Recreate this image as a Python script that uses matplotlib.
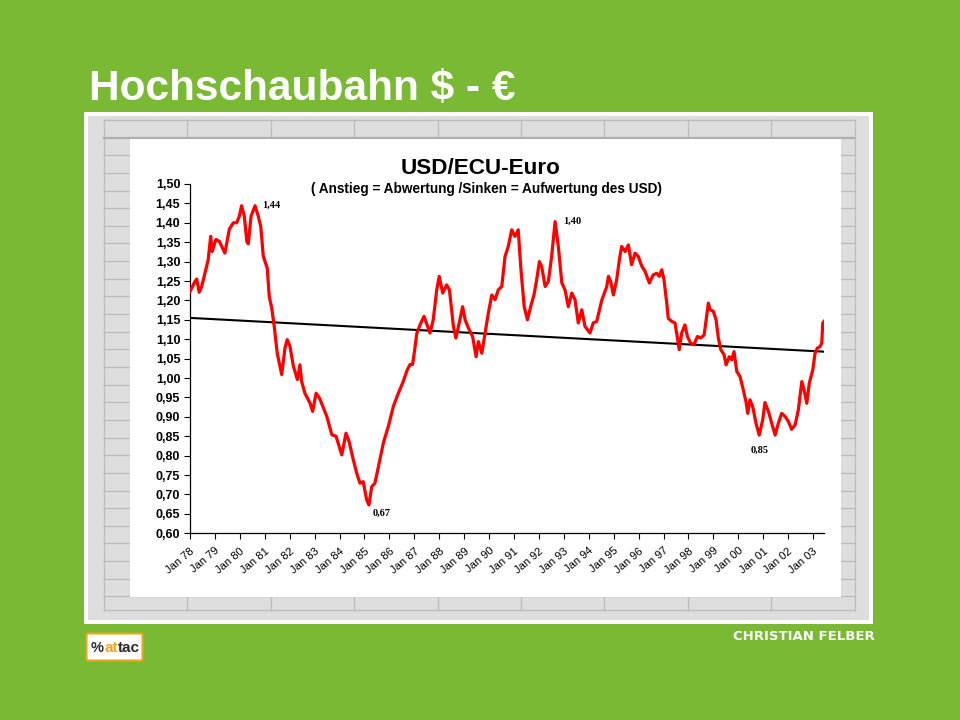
import numpy as np
import matplotlib
matplotlib.use("Agg")
import matplotlib.pyplot as plt
from matplotlib.patches import Rectangle, FancyBboxPatch
from matplotlib.ticker import FuncFormatter

plt.rcParams['font.family'] = ['Liberation Sans', 'DejaVu Sans']

# USD per ECU/Euro (decimal years)
years = [
    1978.00, 1978.20, 1978.27, 1978.37, 1978.47, 1978.60, 1978.73, 1978.83, 1978.89, 1979.04,
    1979.18, 1979.40, 1979.58, 1979.74, 1979.87, 1979.98, 1980.07, 1980.18, 1980.28, 1980.34,
    1980.45, 1980.61, 1980.74, 1980.84, 1980.94, 1981.10, 1981.18, 1981.28, 1981.38, 1981.50,
    1981.68, 1981.81, 1981.90, 1982.01, 1982.15, 1982.31, 1982.41, 1982.48, 1982.61, 1982.82,
    1982.92, 1983.06, 1983.19, 1983.33, 1983.49, 1983.69, 1983.86, 1984.09, 1984.26, 1984.38,
    1984.55, 1984.69, 1984.82, 1984.95, 1985.09, 1985.18, 1985.29, 1985.42, 1985.62, 1985.76,
    1985.96, 1986.16, 1986.36, 1986.55, 1986.71, 1986.83, 1986.93, 1987.01, 1987.10, 1987.23,
    1987.39, 1987.63, 1987.76, 1987.90, 1988.00, 1988.14, 1988.30, 1988.41, 1988.57, 1988.67,
    1988.83, 1988.94, 1989.04, 1989.17, 1989.34, 1989.48, 1989.57, 1989.71, 1989.84, 1989.97,
    1990.11, 1990.24, 1990.37, 1990.51, 1990.64, 1990.77, 1990.91, 1991.04, 1991.17, 1991.28,
    1991.41, 1991.54, 1991.67, 1991.80, 1991.91, 1992.02, 1992.11, 1992.25, 1992.38, 1992.51,
    1992.65, 1992.78, 1992.92, 1993.05, 1993.18, 1993.32, 1993.45, 1993.58, 1993.72, 1993.85,
    1994.05, 1994.18, 1994.32, 1994.52, 1994.72, 1994.79, 1994.88, 1994.99, 1995.12, 1995.23,
    1995.32, 1995.46, 1995.59, 1995.72, 1995.86, 1995.99, 1996.13, 1996.26, 1996.43, 1996.59,
    1996.73, 1996.83, 1996.93, 1997.02, 1997.13, 1997.19, 1997.33, 1997.46, 1997.55, 1997.63,
    1997.73, 1997.86, 1997.96, 1998.09, 1998.22, 1998.36, 1998.49, 1998.63, 1998.71, 1998.80,
    1998.87, 1999.00, 1999.11, 1999.20, 1999.30, 1999.43, 1999.51, 1999.64, 1999.74, 1999.83,
    1999.94, 2000.07, 2000.20, 2000.31, 2000.38, 2000.47, 2000.58, 2000.71, 2000.84, 2000.98,
    2001.07, 2001.21, 2001.34, 2001.48, 2001.61, 2001.74, 2001.88, 2002.01, 2002.14, 2002.28,
    2002.41, 2002.55, 2002.64, 2002.75, 2002.85, 2002.99, 2003.08, 2003.17, 2003.28, 2003.35,
    2003.39, 2003.44,
]
rate = [
    1.223, 1.249, 1.255, 1.221, 1.236, 1.270, 1.305, 1.365, 1.326, 1.357,
    1.352, 1.322, 1.384, 1.400, 1.400, 1.417, 1.444, 1.417, 1.352, 1.346,
    1.417, 1.444, 1.417, 1.390, 1.314, 1.283, 1.210, 1.180, 1.133, 1.064,
    1.009, 1.077, 1.099, 1.082, 1.030, 0.996, 1.034, 0.991, 0.961, 0.935,
    0.914, 0.961, 0.949, 0.927, 0.901, 0.854, 0.850, 0.802, 0.858, 0.837,
    0.790, 0.755, 0.729, 0.733, 0.686, 0.673, 0.720, 0.729, 0.790, 0.833,
    0.876, 0.927, 0.961, 0.990, 1.020, 1.035, 1.035, 1.070, 1.115, 1.137,
    1.159, 1.116, 1.150, 1.227, 1.262, 1.219, 1.240, 1.227, 1.133, 1.103,
    1.150, 1.184, 1.150, 1.129, 1.107, 1.055, 1.094, 1.064, 1.116, 1.167,
    1.214, 1.202, 1.227, 1.236, 1.313, 1.339, 1.382, 1.365, 1.382, 1.279,
    1.184, 1.150, 1.184, 1.214, 1.253, 1.300, 1.288, 1.236, 1.249, 1.313,
    1.403, 1.339, 1.245, 1.227, 1.184, 1.219, 1.202, 1.142, 1.176, 1.133,
    1.116, 1.142, 1.146, 1.200, 1.235, 1.262, 1.249, 1.214, 1.253, 1.305,
    1.339, 1.326, 1.343, 1.292, 1.322, 1.313, 1.288, 1.275, 1.245, 1.266,
    1.270, 1.262, 1.279, 1.253, 1.193, 1.154, 1.146, 1.142, 1.107, 1.073,
    1.116, 1.137, 1.107, 1.090, 1.086, 1.107, 1.103, 1.111, 1.150, 1.193,
    1.176, 1.172, 1.150, 1.103, 1.073, 1.060, 1.034, 1.055, 1.047, 1.068,
    1.017, 1.004, 0.970, 0.939, 0.909, 0.944, 0.926, 0.884, 0.853, 0.892,
    0.937, 0.914, 0.884, 0.853, 0.884, 0.909, 0.901, 0.888, 0.868, 0.879,
    0.918, 0.991, 0.970, 0.935, 0.987, 1.021, 1.064, 1.077, 1.081, 1.090,
    1.142, 1.146,
]
# linear trend as drawn in the chart: value at first and last date
trend_values = [1.155, 1.068]

tick_years = list(range(1978, 2004))
tick_labels = ["Jan %02d" % (y % 100) for y in tick_years]
y_ticks = [round(0.60 + 0.05 * i, 2) for i in range(19)]
# points that carry a value label, and where the label sits (offset in points)
label_dates = [1980.61, 1985.18, 1992.65, 2000.84]
label_offsets = [(5, 0), (3, -6), (6, 0), (0, -11)]
label_align = ['left', 'left', 'left', 'center']

years = np.array(years)
rate = np.array(rate)

GREEN = '#79B933'
fig = plt.figure(figsize=(9.6, 7.2), dpi=100, facecolor=GREEN)

# slide background in pixel coordinates
bg = fig.add_axes([0, 0, 1, 1])
bg.set_xlim(0, 960)
bg.set_ylim(720, 0)
bg.axis('off')

bg.text(89, 89, "Hochschaubahn $ - €", color='white', fontsize=30.5, fontweight='bold',
        ha='left', va='center')

bg.add_patch(Rectangle((84, 112), 789, 512, facecolor='white', edgecolor='none', zorder=1))
bg.add_patch(Rectangle((88, 116), 781, 504, facecolor='#DEDEDE', edgecolor='none', zorder=1))
grid_c = '#BDBDBD'
col_x = [104] + [187.3 + 83.4 * k for k in range(9)]
for x in col_x:
    bg.plot([x, x], [120, 610], color=grid_c, lw=1, zorder=2)
bg.plot([104, 854], [120.3, 120.3], color=grid_c, lw=1, zorder=2)
bg.plot([104, 854], [137.5, 137.5], color='#AFAFAF', lw=1.6, zorder=2)
row_y = 155.2
while row_y < 610:
    bg.plot([104, 854], [row_y, row_y], color=grid_c, lw=1, zorder=2)
    row_y += 17.65
bg.plot([104, 854], [610, 610], color=grid_c, lw=1, zorder=2)
bg.add_patch(Rectangle((130, 138.5), 711, 458, facecolor='white', edgecolor='none', zorder=3))

bg.text(481, 169, "USD/ECU-Euro", fontsize=16.2, fontweight='bold', ha='center', va='center',
        zorder=4)
bg.text(486, 189, "( Anstieg = Abwertung /Sinken = Aufwertung des USD)", fontsize=9.8,
        fontweight='bold', ha='center', va='center', zorder=4)

# attac logo and author
bg.add_patch(FancyBboxPatch((88, 635), 53, 24, boxstyle="round,pad=1.5",
                            facecolor='white', edgecolor='#F2A51A', lw=1.5))
bg.text(91, 648, "%", fontsize=10.5, fontweight='bold', color='#2B2B2B', va='center')
bg.text(104.5, 648, "at", fontsize=11, fontweight='bold', color='#F2A51A', va='center')
bg.text(118.3, 648, "tac", fontsize=11, fontweight='bold', color='#2B2B2B', va='center')
bg.text(875, 637, "CHRISTIAN FELBER", color='white', fontsize=9.5, fontweight='bold',
        family=['DejaVu Sans'], ha='right', va='center')

# chart
ax = fig.add_axes([190 / 960, (720 - 533.3) / 720, 634 / 960, 349.3 / 720])
ax.set_facecolor('none')
ax.plot(years, rate, color='#FF0000', lw=2.3, solid_joinstyle='round', zorder=3)
ax.plot([years[0], years[-1]], trend_values, color='black', lw=1.5, zorder=2)

ax.set_xlim(1978.0, 2003.44)
ax.set_ylim(0.6, 1.5)
ax.set_yticks(y_ticks)
ax.yaxis.set_major_formatter(FuncFormatter(lambda v, p: ("%.2f" % v).replace('.', ',')))
ax.set_xticks(tick_years)
ax.set_xticklabels(tick_labels, rotation=40, ha='right', va='top', rotation_mode='anchor',
                   fontsize=8)
for lab in ax.get_yticklabels():
    lab.set_fontweight('bold')
ax.tick_params(axis='y', labelsize=9, length=4, width=0.8, direction='out', pad=3)
ax.tick_params(axis='x', length=4, width=0.8, direction='out', pad=5)
for side in ['top', 'right']:
    ax.spines[side].set_visible(False)
for side in ['left', 'bottom']:
    ax.spines[side].set_linewidth(0.9)

for d, off, al in zip(label_dates, label_offsets, label_align):
    i = int(np.argmin(np.abs(years - d)))
    txt = ("%.2f" % rate[i]).replace('.', ',')
    ax.annotate(txt, xy=(years[i], rate[i]), xytext=off, textcoords='offset points',
                ha=al, va='center', fontsize=7.5, fontweight='bold',
                family=['Liberation Serif', 'DejaVu Serif'])

fig.savefig("out.png", dpi=100, facecolor=GREEN)
